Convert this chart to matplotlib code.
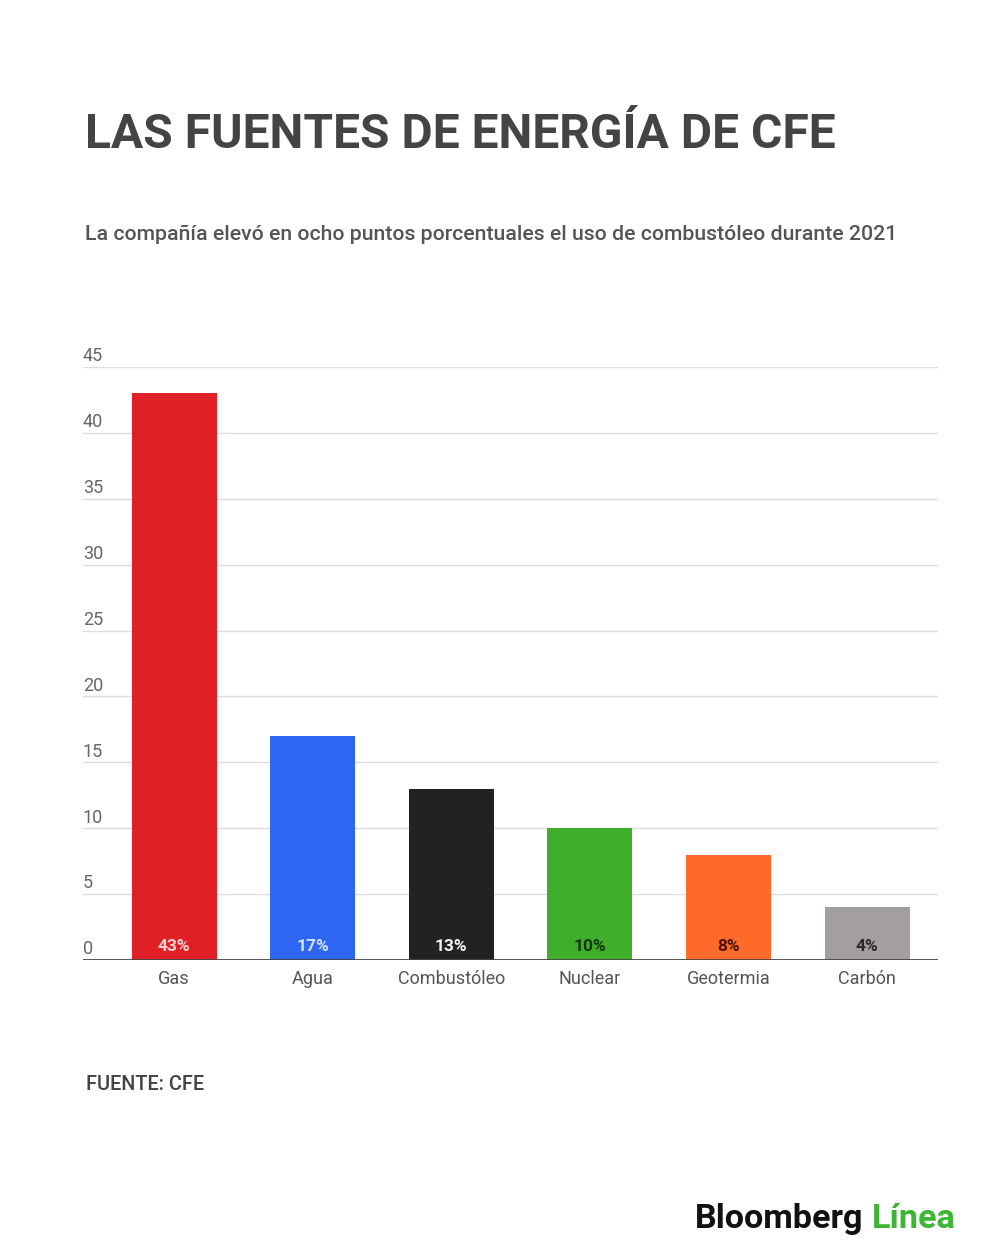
import numpy as np
import matplotlib
matplotlib.use("Agg")
import matplotlib.pyplot as plt

plt.rcParams['font.family'] = ['Roboto', 'DejaVu Sans']

categorias = ["Gas", "Agua", "Combustóleo", "Nuclear", "Geotermia", "Carbón"]
valores = [43, 17, 13, 10, 8, 4]
etiquetas = ["43%", "17%", "13%", "10%", "8%", "4%"]
colores = ["#E01F26", "#2D66F0", "#222222", "#3FAE2A", "#FF6A2B", "#A39F9F"]
color_etiqueta = ["#FFD3D3", "#D3E1FF", "#F2F2F2", "#123A0E", "#4A1405", "#2A2A2A"]
yticks = [0, 5, 10, 15, 20, 25, 30, 35, 40, 45]

fig = plt.figure(figsize=(10, 12.6), dpi=100)
ax = fig.add_axes([0.083, 0.2381, 0.855, 0.4706])

x = np.arange(len(categorias))
ax.bar(x, valores, width=0.613, color=colores, zorder=3)

ax.set_xlim(-0.657, 5.512)
ax.set_ylim(0, 45)

# gridlines + y labels above lines
for t in yticks:
    if t > 0:
        ax.axhline(t, color="#DDDDDD", lw=1, zorder=1)
    ax.annotate(str(t), xy=(0, t), xycoords=("axes fraction", "data"),
                xytext=(0, 1.2), textcoords="offset points",
                ha="left", va="bottom", fontsize=13, color="#666666")
ax.axhline(0, color="#444444", lw=2, zorder=4)

for xi, lab, c in zip(x, etiquetas, color_etiqueta):
    ax.annotate(lab, xy=(xi, 0), xytext=(0, 4), textcoords="offset points",
                ha="center", va="bottom", fontsize=12.5, fontweight="bold",
                color=c, zorder=5)

ax.set_xticks(x)
ax.set_xticklabels(categorias, fontsize=13, color="#555555")
ax.tick_params(axis="x", length=0, pad=7)
ax.set_yticks([])
for s in ax.spines.values():
    s.set_visible(False)

fig.text(0.085, 0.8825, "LAS FUENTES DE ENERGÍA DE CFE", fontsize=34.6,
         fontweight="bold", color="#444444", ha="left", va="baseline")
fig.text(0.085, 0.8095, "La compañía elevó en ocho puntos porcentuales el uso de combustóleo durante 2021",
         fontsize=15.35, fontweight="medium", color="#555555", ha="left", va="baseline")
fig.text(0.086, 0.1350, "FUENTE: CFE", fontsize=14.3, fontweight="medium",
         color="#444444", ha="left", va="baseline")

t1 = fig.text(0.695, 0.0255, "Bloomberg", fontsize=24.6, fontweight="bold",
              color="#111111", ha="left", va="baseline")
fig.canvas.draw()
bb = t1.get_window_extent(renderer=fig.canvas.get_renderer())
x_end = bb.x1 / fig.bbox.width
fig.text(x_end + 0.008, 0.0255, "Línea", fontsize=24.6, fontweight="bold",
         color="#3DB535", ha="left", va="baseline")

fig.savefig("out.png", dpi=100, facecolor="white")
